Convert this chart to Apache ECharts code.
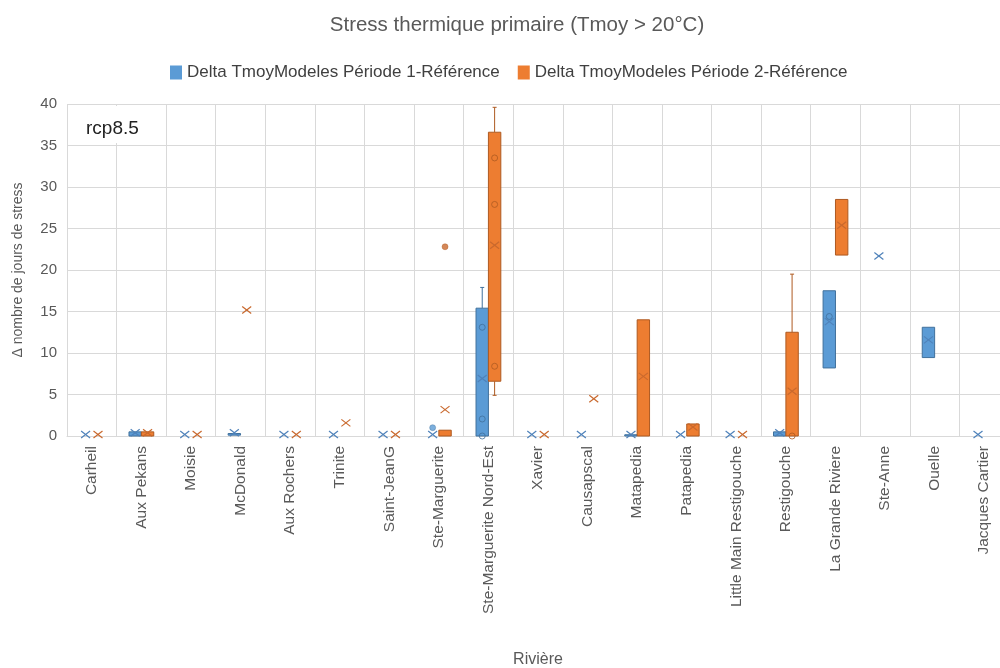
<!DOCTYPE html>
<html><head><meta charset="utf-8">
<script src="https://cdn.jsdelivr.net/npm/echarts@6/dist/echarts.min.js"></script>
<style>html,body{margin:0;padding:0;background:#fff}#c{width:1000px;height:668px}</style>
</head><body><div id="c"></div>
<script>
const categories = ['Carheil','Aux Pekans','Moisie','McDonald','Aux Rochers','Trinite','Saint-JeanG','Ste-Marguerite','Ste-Marguerite Nord-Est','Xavier','Causapscal','Matapedia','Patapedia','Little Main Restigouche','Restigouche','La Grande Riviere','Ste-Anne','Ouelle','Jacques Cartier'];
const yTicks = [0, 5, 10, 15, 20, 25, 30, 35, 40];

// Delta TmoyModeles Période 1-Référence
const p1Min    = [0, 0,   0, 0.1, 0, 0, 0, 0, 0,    0, 0, 0,    0, 0, 0,   8.2,  21.5, 9.45, 0];
const p1Q1     = [0, 0,   0, 0.1, 0, 0, 0, 0, 0,    0, 0, 0,    0, 0, 0,   8.2,  21.5, 9.45, 0];
const p1Median = [0, 0.2, 0, 0.2, 0, 0, 0, 0, 2.05, 0, 0, 0,    0, 0, 0.1, 14.4, 21.5, 11.4, 0];
const p1Q3     = [0, 0.5, 0, 0.3, 0, 0, 0, 0, 15.4, 0, 0, 0.15, 0, 0, 0.5, 17.5, 21.5, 13.1, 0];
const p1Max    = [0, 0.5, 0, 0.3, 0, 0, 0, 0, 17.9, 0, 0, 0.15, 0, 0, 0.5, 17.5, 21.5, 13.1, 0];
const p1Mean   = [0, 0.2, 0, 0.2, 0, 0, 0, 0, 6.75, 0, 0, 0,    0, 0, 0.2, 13.6, 21.5, 11.4, 0];
const p1Points   = [['Ste-Marguerite Nord-Est', 0], ['Ste-Marguerite Nord-Est', 2.05], ['Ste-Marguerite Nord-Est', 13.1], ['La Grande Riviere', 14.4]];
const p1Outliers = [['Ste-Marguerite', 1.0]];

// Delta TmoyModeles Période 2-Référence
const p2Min    = [0, 0,   0, 15, 0, 1.4, 0, 0,   4.9,  0, 4.3, 0,  0,    0, 0,    21.8, null, null, null];
const p2Q1     = [0, 0,   0, 15, 0, 1.4, 0, 0,   6.6,  0, 4.3, 0,  0,    0, 0,    21.8, null, null, null];
const p2Median = [0, 0.2, 0, 15, 0, 1.4, 0, 0,   27.9, 0, 4.3, 7,  0.8,  0, 3,    25.2, null, null, null];
const p2Q3     = [0, 0.5, 0, 15, 0, 1.4, 0, 0.7, 36.6, 0, 4.3, 14, 1.45, 0, 12.5, 28.5, null, null, null];
const p2Max    = [0, 0.5, 0, 15, 0, 1.4, 0, 0.7, 39.6, 0, 4.3, 14, 1.45, 0, 19.5, 28.5, null, null, null];
const p2Mean   = [0, 0.2, 0, 15, 0, 1.4, 0, 3.0, 22.8, 0, 4.3, 7,  0.9,  0, 5.2,  25.2, null, null, null];
const p2Points   = [['Ste-Marguerite Nord-Est', 8.4], ['Ste-Marguerite Nord-Est', 27.9], ['Ste-Marguerite Nord-Est', 33.5], ['Restigouche', 0]];
const p2Outliers = [['Ste-Marguerite', 22.8]];

const BLUE = '#5B9BD5', BLUE_D = '#41719C', BLUE_X = '#4F82BA';
const ORANGE = '#ED7D31', ORANGE_D = '#AE5A21', ORANGE_X = '#C9692E';
const BOX_FRAC = 0.25;

function buildBoxData(mn, q1, md, q3, mx, mean) {
  const out = [];
  categories.forEach((c, i) => {
    if (mn[i] == null) return;
    out.push([i, mn[i], q1[i], md[i], q3[i], mx[i], mean[i]]);
  });
  return out;
}

function makeRender(sign, fill, stroke, xColor) {
  return function (params, api) {
    const ci = api.value(0);
    const band = api.size([1, 0])[0];
    const w = band * BOX_FRAC;
    const cx = api.coord([ci, 0])[0] + sign * w / 2;
    const Y = v => api.coord([ci, v])[1];
    const mn = api.value(1), q1 = api.value(2), md = api.value(3), q3 = api.value(4), mx = api.value(5), mean = api.value(6);
    const ch = [];
    const cap = 2;
    if (mx > q3) {
      ch.push({type: 'line', shape: {x1: cx, y1: Y(q3), x2: cx, y2: Y(mx)}, style: {stroke: stroke, lineWidth: 1}});
      ch.push({type: 'line', shape: {x1: cx - cap, y1: Y(mx), x2: cx + cap, y2: Y(mx)}, style: {stroke: stroke, lineWidth: 1}});
    }
    if (q1 > mn) {
      ch.push({type: 'line', shape: {x1: cx, y1: Y(q1), x2: cx, y2: Y(mn)}, style: {stroke: stroke, lineWidth: 1}});
      ch.push({type: 'line', shape: {x1: cx - cap, y1: Y(mn), x2: cx + cap, y2: Y(mn)}, style: {stroke: stroke, lineWidth: 1}});
    }
    if (q3 > q1) {
      ch.push({type: 'rect', shape: {x: cx - w / 2, y: Y(q3), width: w, height: Y(q1) - Y(q3)}, style: {fill: fill, stroke: stroke, lineWidth: 1}});
    }
    const ym = Y(mean) - 1.5, sx = 4.5, sy = 3.5;
    ch.push({type: 'line', shape: {x1: cx - sx, y1: ym - sy, x2: cx + sx, y2: ym + sy}, style: {stroke: xColor, lineWidth: 1.2}});
    ch.push({type: 'line', shape: {x1: cx - sx, y1: ym + sy, x2: cx + sx, y2: ym - sy}, style: {stroke: xColor, lineWidth: 1.2}});
    return {type: 'group', children: ch};
  };
}

const chart = echarts.init(document.getElementById('c'), null, {renderer: 'canvas'});
const bandPx = 942 / categories.length;
const off = bandPx * BOX_FRAC / 2;
const name1 = 'Delta TmoyModeles Période 1-Référence';
const name2 = 'Delta TmoyModeles Période 2-Référence';
const labelFont = 'Liberation Sans';

chart.setOption({
  animation: false,
  backgroundColor: '#fff',
  title: {
    text: 'Stress thermique primaire (Tmoy > 20°C)',
    left: 512, top: 10, textAlign: 'center',
    textStyle: {fontFamily: 'Liberation Sans', fontSize: 20.5, fontWeight: 'normal', color: '#595959'}
  },
  legend: {
    left: 165, top: 59,
    itemWidth: 12, itemHeight: 14, itemGap: 18,
    icon: 'rect',
    textStyle: {fontFamily: 'Liberation Sans', fontSize: 17, color: '#404040'},
    data: [name1, name2]
  },
  grid: {left: 67, right: -9, top: 104, bottom: 232, containLabel: false, outerBoundsMode: 'none'},
  xAxis: {
    type: 'category', data: categories, boundaryGap: true,
    name: 'Rivière', nameLocation: 'middle', nameGap: 216,
    nameTextStyle: {fontFamily: 'Liberation Sans', fontSize: 16, color: '#595959'},
    axisLine: {show: true, lineStyle: {color: '#d9d9d9'}},
    axisTick: {show: false},
    axisLabel: {rotate: 90, interval: 0, margin: 10, fontFamily: labelFont, fontSize: 15.5, color: '#595959'},
    splitLine: {show: true, interval: 0, lineStyle: {color: '#d9d9d9', width: 1}}
  },
  yAxis: {
    type: 'value', min: yTicks[0], max: yTicks[yTicks.length - 1], interval: yTicks[1] - yTicks[0],
    name: 'Δ nombre de jours de stress', nameLocation: 'middle', nameGap: 42,
    nameTextStyle: {fontFamily: labelFont, fontSize: 14, color: '#595959'},
    axisLine: {show: false}, axisTick: {show: false},
    axisLabel: {margin: 10, fontFamily: labelFont, fontSize: 15, color: '#595959'},
    splitLine: {lineStyle: {color: '#d9d9d9', width: 1}}
  },
  graphic: [
    {type: 'rect', left: 69, top: 106, shape: {width: 92, height: 37}, style: {fill: '#fff'}, z: 5},
    {type: 'text', left: 86, top: 119, style: {text: 'rcp8.5', font: '19px "Liberation Sans"', fill: '#222'}, z: 6}
  ],
  series: [
    {name: name1, type: 'custom', itemStyle: {color: BLUE}, renderItem: makeRender(-1, BLUE, BLUE_D, BLUE_X),
     encode: {x: 0, y: [1, 2, 3, 4, 5, 6]}, data: buildBoxData(p1Min, p1Q1, p1Median, p1Q3, p1Max, p1Mean), z: 3},
    {name: name2, type: 'custom', itemStyle: {color: ORANGE}, renderItem: makeRender(1, ORANGE, ORANGE_D, ORANGE_X),
     encode: {x: 0, y: [1, 2, 3, 4, 5, 6]}, data: buildBoxData(p2Min, p2Q1, p2Median, p2Q3, p2Max, p2Mean), z: 3},
    {name: name1, type: 'scatter', symbol: 'circle', symbolSize: 6, symbolOffset: [-off, 0], z: 4,
     itemStyle: {color: 'rgba(0,0,0,0)', borderColor: BLUE_D, borderWidth: 1}, data: p1Points},
    {name: name2, type: 'scatter', symbol: 'circle', symbolSize: 6, symbolOffset: [off, 0], z: 4,
     itemStyle: {color: 'rgba(0,0,0,0)', borderColor: ORANGE_D, borderWidth: 1}, data: p2Points},
    {name: name1, type: 'scatter', symbol: 'circle', symbolSize: 6, symbolOffset: [-off, 0], z: 4,
     itemStyle: {color: BLUE, borderColor: BLUE_D, borderWidth: 0.5}, data: p1Outliers},
    {name: name2, type: 'scatter', symbol: 'circle', symbolSize: 6, symbolOffset: [off, 0], z: 4,
     itemStyle: {color: ORANGE_X, borderColor: ORANGE_D, borderWidth: 0.5}, data: p2Outliers}
  ]
});
</script>
</body></html>
